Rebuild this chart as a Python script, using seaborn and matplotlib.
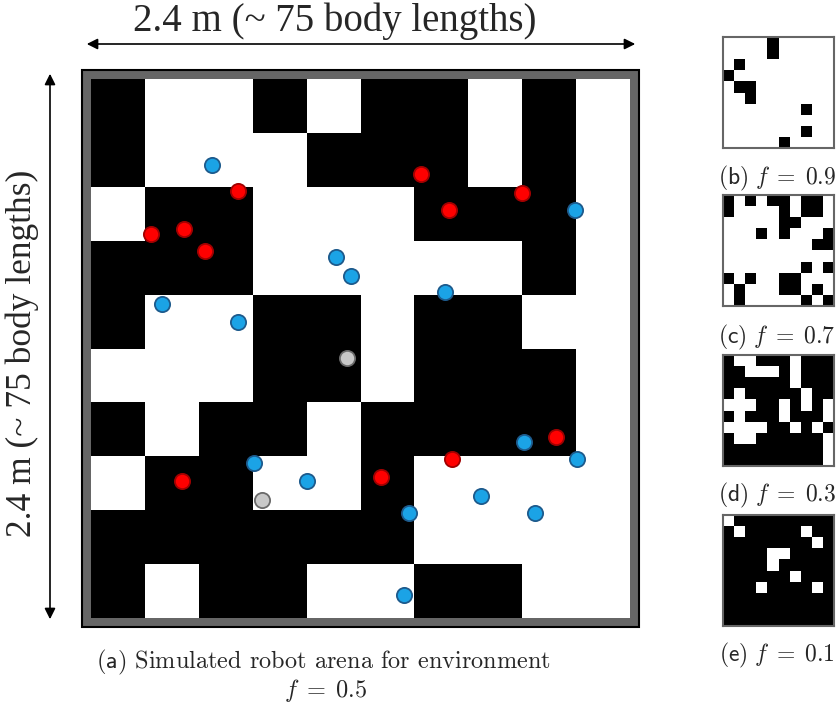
import numpy as np
import pandas as pd
import matplotlib
matplotlib.use("Agg")
import matplotlib.pyplot as plt
from matplotlib.colors import ListedColormap
from matplotlib.patches import Rectangle
import seaborn as sns

sns.set_theme(style="white")
plt.rcParams['mathtext.fontset'] = 'cm'

# ---- data: 1 = black tile, 0 = white tile (rows top->bottom) ----
arena_a = [
    [1,0,0,1,0,1,1,0,1,0],
    [1,0,0,0,1,1,1,0,1,0],
    [0,1,1,0,0,0,1,1,1,0],
    [1,1,1,0,0,0,0,0,1,0],
    [1,0,0,1,1,0,1,1,0,0],
    [0,0,0,1,1,0,1,1,1,0],
    [1,0,1,1,0,1,1,1,1,0],
    [0,1,1,0,0,1,0,0,0,0],
    [1,1,1,1,1,1,0,0,0,0],
    [1,0,1,1,0,0,1,1,0,0],
]
arena_b = [
    [0,0,0,0,1,0,0,0,0,0],
    [0,0,0,0,1,0,0,0,0,0],
    [0,1,0,0,0,0,0,0,0,0],
    [1,0,0,0,0,0,0,0,0,0],
    [0,1,1,0,0,0,0,0,0,0],
    [0,0,1,0,0,0,0,0,0,0],
    [0,0,0,0,0,0,0,1,0,0],
    [0,0,0,0,0,0,0,0,0,0],
    [0,0,0,0,0,0,0,1,0,0],
    [0,0,0,0,0,1,0,0,0,0],
]
arena_c = [
    [1,0,1,0,1,1,0,1,1,0],
    [1,0,0,0,0,1,0,1,1,0],
    [0,0,0,0,0,1,1,0,0,0],
    [0,0,0,1,0,1,0,0,0,1],
    [0,0,0,0,0,0,0,0,1,1],
    [0,0,0,0,0,0,0,0,0,0],
    [0,0,0,0,0,0,0,1,0,1],
    [1,0,1,0,0,1,1,0,0,0],
    [0,1,0,0,0,1,1,0,1,0],
    [0,1,0,0,0,0,0,1,0,1],
]
arena_d = [
    [1,0,0,1,1,1,0,1,1,1],
    [1,1,0,0,0,1,0,1,1,1],
    [1,1,1,1,1,1,0,1,1,1],
    [1,0,1,1,1,1,1,0,1,1],
    [0,0,0,1,1,0,1,0,1,0],
    [1,0,1,1,1,0,1,1,1,0],
    [0,0,0,0,1,1,0,1,0,1],
    [1,0,0,1,1,1,1,1,1,0],
    [1,1,1,1,1,1,1,1,1,0],
    [1,1,1,1,1,1,1,1,1,0],
]
arena_e = [
    [0,1,1,1,1,1,1,1,1,1],
    [1,0,1,1,1,1,1,0,1,1],
    [1,1,1,1,1,1,1,1,0,1],
    [1,1,1,1,0,0,1,1,1,1],
    [1,1,1,1,0,1,1,1,1,1],
    [1,1,1,1,1,1,0,1,1,1],
    [1,1,1,0,1,1,1,1,0,1],
    [1,1,1,1,1,1,1,1,1,1],
    [1,1,1,1,1,1,1,1,1,1],
    [1,1,1,1,1,1,1,1,1,1],
]

# robots (grid units, x from left, y from top)
blue_x = [2.25, 8.98, 4.54, 4.83, 6.57, 1.32, 2.72, 8.03, 9.02, 3.03, 4.01, 7.24, 5.90, 8.23, 5.81]
blue_y = [1.60, 2.43, 3.30, 3.65, 3.95, 4.18, 4.51, 6.73, 7.05, 7.13, 7.45, 7.73, 8.05, 8.05, 9.58]
red_x = [2.72, 6.13, 7.99, 6.65, 1.12, 1.73, 2.11, 8.63, 6.69, 5.38, 1.69]
red_y = [2.08, 1.77, 2.11, 2.43, 2.87, 2.78, 3.19, 6.65, 7.05, 7.39, 7.45]
gray_x = [4.75, 3.17]
gray_y = [5.17, 7.81]

side_panels = [arena_b, arena_c, arena_d, arena_e]
side_labels = [r'$\mathsf{(b)}\ f \;=\; 0.9$', r'$\mathsf{(c)}\ f \;=\; 0.7$',
               r'$\mathsf{(d)}\ f \;=\; 0.3$', r'$\mathsf{(e)}\ f \;=\; 0.1$']

W, H = 838, 703
fig = plt.figure(figsize=(W / 100, H / 100), dpi=100)
cmap = ListedColormap(['white', 'black'])

def px_axes(x0, y0, x1, y1):
    return fig.add_axes([x0 / W, 1 - y1 / H, (x1 - x0) / W, (y1 - y0) / H])

# ---- main arena ----
ax = px_axes(91, 79, 630, 618)
sns.heatmap(np.array(arena_a), cmap=cmap, vmin=0, vmax=1, cbar=False,
            xticklabels=False, yticklabels=False, ax=ax, square=False)
ax.set_xlim(0, 10)
ax.set_ylim(10, 0)
u = 10 / 539.0
fr = Rectangle((-9 * u, -9 * u), 10 + 18 * u, 10 + 18 * u, facecolor='#666666',
               edgecolor='black', lw=1.5, zorder=0, clip_on=False)
ax.add_patch(fr)
for sp in ax.spines.values():
    sp.set_visible(False)

robots = pd.DataFrame({
    'x': blue_x + red_x + gray_x,
    'y': blue_y + red_y + gray_y,
    'kind': ['blue'] * len(blue_x) + ['red'] * len(red_x) + ['gray'] * len(gray_x),
})
styles = {'blue': ('#1ba3e6', '#1d5a8c'), 'red': ('#ff0000', '#a00000'),
          'gray': ('#c8c8c8', '#6a6a6a')}
for k, (fc, ec) in styles.items():
    sub = robots[robots.kind == k]
    sns.scatterplot(data=sub, x='x', y='y', s=120, color=fc, edgecolor=ec,
                    linewidth=1.3, ax=ax, legend=False, zorder=5, clip_on=False)
ax.set_xlabel('')
ax.set_ylabel('')
ax.set_xticks([])
ax.set_yticks([])

# ---- dimension arrows and labels ----
fig.add_artist(matplotlib.patches.FancyArrowPatch(
    (84 / W, 1 - 44 / H), (638 / W, 1 - 44 / H), transform=fig.transFigure,
    arrowstyle='<|-|>', mutation_scale=16, lw=1.2, color='black'))
fig.add_artist(matplotlib.patches.FancyArrowPatch(
    (50 / W, 1 - 71 / H), (50 / W, 1 - 622 / H), transform=fig.transFigure,
    arrowstyle='<|-|>', mutation_scale=16, lw=1.2, color='black'))
fig.text(335 / W, 1 - 21 / H, '2.4 m (~ 75 body lengths)', ha='center', va='center',
         fontsize=28, family='Liberation Serif')
fig.text(22 / W, 1 - 353 / H, '2.4 m (~ 75 body lengths)', ha='center', va='center',
         fontsize=25.5, family='Liberation Serif', rotation=90)

# caption
fig.text(324 / W, 1 - 662 / H, r'$\mathsf{(a)}$ Simulated robot arena for environment',
         ha='center', va='center', fontsize=17.5, family='cmr10')
fig.text(325 / W, 1 - 690 / H, r'$f \;=\; 0.5$', ha='center', va='center', fontsize=17.5)

# ---- side panels ----
tops = [37, 195, 355, 515]
label_y = [178, 337, 495, 655]
for grid, top, lab, ly in zip(side_panels, tops, side_labels, label_y):
    sax = px_axes(723, top, 834, top + 111)
    sns.heatmap(np.array(grid), cmap=cmap, vmin=0, vmax=1, cbar=False,
                xticklabels=False, yticklabels=False, ax=sax)
    for sp in sax.spines.values():
        sp.set_visible(True)
        sp.set_color('#666666')
        sp.set_linewidth(1.5)
    fig.text(777 / W, 1 - ly / H, lab, ha='center', va='center', fontsize=17)

fig.savefig('out.png', dpi=100)
